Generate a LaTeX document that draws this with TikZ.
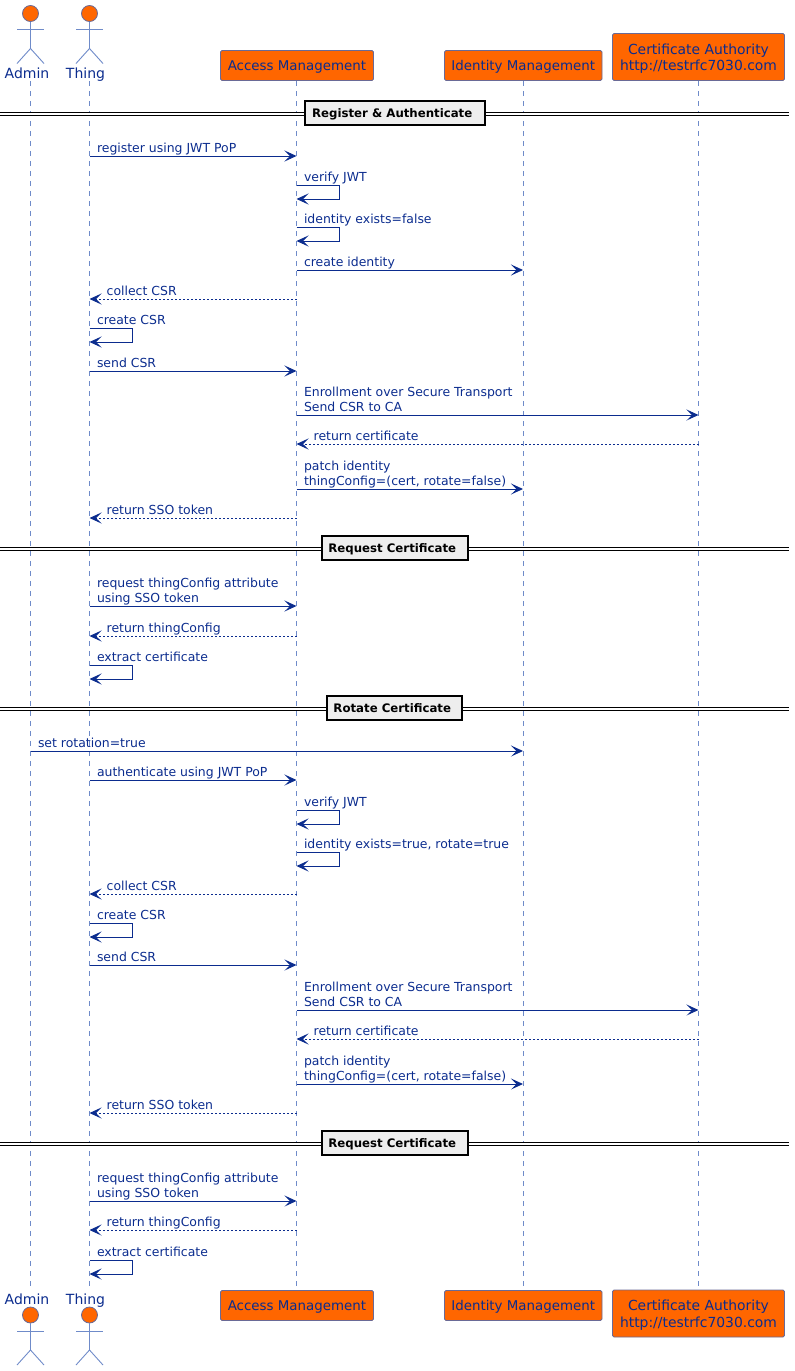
\documentclass[tikz,border=0pt]{standalone}
\usepackage{fontspec}
\setmainfont{DejaVu Sans}
\usetikzlibrary{positioning, arrows.meta}
\definecolor{inkblue}{HTML}{0B2C8E}
\definecolor{lifeblue}{HTML}{6F8BC9}
\definecolor{boxorange}{HTML}{FF6600}
\definecolor{boxedge}{HTML}{6A6A96}
\definecolor{sepfill}{HTML}{EEEEEE}
\tikzset{
	lifeline/.style={
		draw=lifeblue,
		line width=0.8pt,
		dash pattern=on 5pt off 5pt,
	},
	partbox/.style={
		draw=boxedge,
		fill=boxorange,
		rounded corners=1.5pt,
		line width=0.8pt,
		text=inkblue,
		align=center,
		inner sep=0pt,
		text depth=0pt,
		font={\fontsize{13.4}{16.5}\selectfont},
	},
	partwide/.style={
		partbox,
		font={\fontsize{13.9}{16.5}\selectfont},
	},
	partlbl/.style={
		anchor=base,
		text=inkblue,
		inner sep=0pt,
		font={\fontsize{14}{16}\selectfont},
	},
	head/.style={
		circle,
		draw=boxedge,
		fill=boxorange,
		line width=0.8pt,
		minimum size=16pt,
		inner sep=0pt,
	},
	limb/.style={
		draw=lifeblue,
		line width=0.9pt,
	},
	msg/.style={
		draw=inkblue,
		line width=1pt,
		-{Stealth[length=12pt,width=11pt,inset=5.5pt]},
	},
	ret/.style={
		msg,
		dash pattern=on 2pt off 2pt,
	},
	msglbl/.style={
		anchor=base west,
		align=left,
		text=inkblue,
		inner sep=0pt,
		font={\fontsize{12.45}{15}\selectfont},
	},
	sepline/.style={
		draw=black,
		line width=1pt,
		double=white,
		double distance=1.6pt,
	},
	sepbox/.style={
		draw=black,
		fill=sepfill,
		line width=2pt,
		text=black,
		inner sep=0pt,
		minimum height=24pt,
		text height=9.5pt,
		text depth=0pt,
		font={\fontsize{11.75}{15}\selectfont\bfseries},
	},
}

\begin{document}
\begin{tikzpicture}[x=1pt,y=-1pt]
\useasboundingbox (0,0) rectangle (795,1371);

% lifelines
\foreach \who/\xx in {admin/30.5,thing/89.5,access/296.5,identity/523,ca/698.5} {
	\coordinate(\who Top) at (\xx,81);
	\coordinate(\who Bot) at (\xx,1288);
	\draw[lifeline] (\who Top) -- (\who Bot);
};

% boxes, top and bottom
\node(accessA)[partbox, minimum width=153pt, minimum height=30pt] at (297,65.5) {Access Management};
\node(identityA)[partbox, minimum width=157.5pt, minimum height=30pt] at (523.25,65.5) {Identity Management};
\node(caA)[partwide, minimum width=172pt, minimum height=47pt] at (698.5,57) {Certificate Authority\\http://testrfc7030.com};
\node(accessB)[partbox, minimum width=153pt, minimum height=30pt] at (297,1305.5) {Access Management};
\node(identityB)[partbox, minimum width=157.5pt, minimum height=30pt] at (523.25,1305.5) {Identity Management};
\node(caB)[partwide, minimum width=172pt, minimum height=47pt] at (698.5,1313.5) {Certificate Authority\\http://testrfc7030.com};

% actors
\foreach \who/\xx/\lx/\txt in {admin/30.5/27/Admin,thing/89.5/85.5/Thing} {
	\foreach \pos/\hy/\ly in {A/13.5/78.5,B/1315/1304} {
		\node(\who H\pos)[head] at (\xx,\hy) {};
		\node(\who L\pos)[partlbl] at (\lx,\ly) {\txt};
		\coordinate(\who N\pos) at (\xx,\hy+8);
		\coordinate(\who W\pos) at (\xx,\hy+35);
		\coordinate(\who Al\pos) at (\xx-13.5,\hy+16);
		\coordinate(\who Ar\pos) at (\xx+13.5,\hy+16);
		\coordinate(\who Fl\pos) at (\xx-13.5,\hy+50);
		\coordinate(\who Fr\pos) at (\xx+13.5,\hy+50);
		\draw[limb] (\who N\pos) -- (\who W\pos);
		\draw[limb] (\who Al\pos) -- (\who Ar\pos);
		\draw[limb] (\who Fl\pos) -- (\who W\pos) -- (\who Fr\pos);
	};
};

% section separators
\foreach \yy/\ww/\txt in {113/180/{Register \& Authenticate},548/146/{Request Certificate},708/135/{Rotate Certificate},1143/146/{Request Certificate}} {
	\coordinate(sepL\yy) at (0,\yy+1);
	\coordinate(sepR\yy) at (789,\yy+1);
	\draw[sepline] (sepL\yy) -- (sepR\yy);
	\node(sep\yy)[sepbox, minimum width=\ww pt] at (394.75,\yy) {\txt\hspace*{5pt}};
};

% calls
\foreach \yy/\from/\dest/\txt [count=\ii] in {
	156/thing/access/{register using JWT PoP},
	270/access/identity/{create identity},
	371/thing/access/{send CSR},
	415/access/ca/{Enrollment over Secure Transport\\Send CSR to CA},
	489/access/identity/{patch identity\\thingConfig=(cert, rotate=false)},
	606/thing/access/{request thingConfig attribute\\using SSO token},
	751/admin/identity/{set rotation=true},
	780/thing/access/{authenticate using JWT PoP},
	965/thing/access/{send CSR},
	1010/access/ca/{Enrollment over Secure Transport\\Send CSR to CA},
	1084/access/identity/{patch identity\\thingConfig=(cert, rotate=false)},
	1201/thing/access/{request thingConfig attribute\\using SSO token}} {
	\coordinate(m\ii a) at (\from Top |- 0,\yy);
	\coordinate(m\ii b) at (\dest Top |- 0,\yy);
	\draw[msg] (m\ii a) -- (m\ii b);
	\node(mlbl\ii)[msglbl] at ([shift={(7.3,-4)}]m\ii a) {\txt};
};

% returns
\foreach \yy/\from/\dest/\txt [count=\ii] in {
	299/access/thing/{collect CSR},
	444/ca/access/{return certificate},
	518/access/thing/{return SSO token},
	636/access/thing/{return thingConfig},
	894/access/thing/{collect CSR},
	1039/ca/access/{return certificate},
	1113/access/thing/{return SSO token},
	1230/access/thing/{return thingConfig}} {
	\coordinate(r\ii a) at (\from Top |- 0,\yy);
	\coordinate(r\ii b) at (\dest Top |- 0,\yy);
	\draw[ret] (r\ii a) -- (r\ii b);
	\node(rlbl\ii)[msglbl] at ([shift={(17,-4)}]r\ii b) {\txt};
};

% self calls
\foreach \yy/\who/\txt [count=\ii] in {
	185/access/{verify JWT},
	227/access/{identity exists=false},
	328/thing/{create CSR},
	665/thing/{extract certificate},
	810/access/{verify JWT},
	852/access/{identity exists=true, rotate=true},
	923/thing/{create CSR},
	1260/thing/{extract certificate}} {
	\pgfmathsetmacro\yb{\yy+14}
	\coordinate(s\ii a) at (\who Top |- 0,\yy);
	\coordinate(s\ii b) at (\who Top |- 0,\yb);
	\coordinate(s\ii c) at ([xshift=42.5pt]s\ii b);
	\draw[msg] (s\ii a) -| (s\ii c) -- (s\ii b);
	\node(slbl\ii)[msglbl] at ([shift={(7.3,-4)}]s\ii a) {\txt};
};

\end{tikzpicture}
\end{document}
